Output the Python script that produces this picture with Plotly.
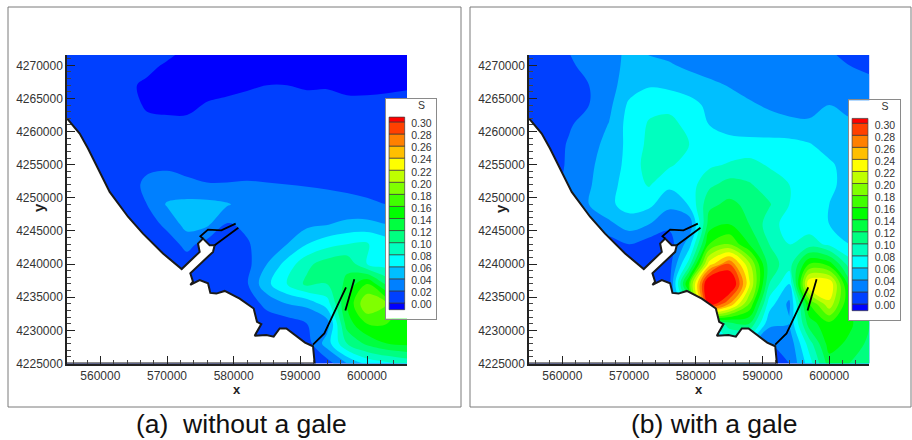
import plotly.graph_objects as go

W, H = 912, 440

x_grid = [555000 + 3000 * i for i in range(18)]
y_grid = [4225000, 4228000, 4231000, 4234000, 4237000, 4240000, 4243000, 4246000, 4249000,
          4252000, 4255000, 4258000, 4261000, 4264000, 4267000, 4270000, 4272000]

z_a = [
 [.02,.02,.02,.02,.02,.02,.02,.02,.02,.02,.02,.02,.008,.02,.05,.075,.085,.095],
 [.02,.02,.02,.02,.02,.02,.02,.02,.02,.02,.02,.02,.02,.06,.11,.135,.15,.155],
 [.02,.02,.02,.02,.02,.02,.02,.02,.02,.02,.02,.02,.03,.04,.14,.17,.17,.155],
 [.02,.02,.02,.02,.02,.02,.02,.02,.02,.02,.035,.05,.055,.08,.15,.21,.19,.15],
 [.02,.02,.02,.02,.02,.02,.02,.02,.02,.028,.065,.09,.115,.11,.135,.17,.125,.09],
 [.02,.02,.02,.02,.02,.02,.02,.02,.02,.024,.05,.078,.105,.12,.125,.09,.08,.07],
 [.02,.02,.02,.02,.02,.02,.036,.022,.02,.028,.04,.05,.07,.083,.09,.092,.08,.06],
 [.02,.02,.02,.02,.02,.035,.058,.054,.028,.034,.04,.04,.045,.049,.055,.056,.05,.047],
 [.02,.02,.02,.018,.03,.052,.056,.056,.052,.042,.04,.04,.038,.036,.034,.032,.03,.03],
 [.02,.02,.02,.024,.033,.037,.034,.031,.031,.032,.031,.030,.029,.028,.027,.026,.025,.022],
 [.02,.02,.02,.022,.027,.027,.024,.022,.022,.022,.022,.021,.021,.02,.02,.02,.02,.02],
 [.02,.02,.02,.018,.018,.018,.018,.018,.018,.018,.018,.018,.018,.018,.018,.018,.018,.018],
 [.02,.02,.02,.018,.014,.013,.013,.014,.016,.016,.016,.016,.016,.016,.016,.016,.016,.016],
 [.02,.02,.02,.016,.008,.007,.007,.011,.013,.015,.016,.016,.016,.014,.013,.013,.013,.013],
 [.02,.02,.02,.014,.006,.005,.004,.005,.006,.008,.01,.01,.008,.009,.007,.007,.008,.009],
 [.02,.02,.02,.02,.016,.007,.004,.004,.004,.004,.004,.004,.004,.004,.004,.004,.004,.004],
 [.02,.02,.02,.02,.02,.016,.006,.004,.004,.004,.004,.004,.004,.004,.004,.004,.004,.004],
]

z_b = [
 [.02,.02,.02,.02,.02,.02,.02,.02,.02,.02,.04,.06,.03,.03,.08,.14,.13,.12],
 [.02,.02,.02,.02,.02,.02,.02,.02,.02,.04,.08,.06,.03,.035,.10,.16,.145,.125],
 [.02,.02,.02,.02,.02,.02,.02,.02,.02,.08,.12,.13,.055,.05,.14,.165,.155,.13],
 [.02,.02,.02,.02,.02,.02,.02,.02,.10,.33,.27,.19,.08,.045,.17,.225,.15,.12],
 [.02,.02,.02,.02,.02,.02,.02,.02,.18,.35,.35,.235,.11,.07,.25,.25,.14,.09],
 [.02,.02,.02,.02,.02,.02,.02,.02,.10,.24,.29,.215,.12,.10,.17,.16,.10,.08],
 [.02,.02,.02,.02,.02,.03,.02,.02,.06,.17,.19,.15,.11,.09,.10,.085,.07,.065],
 [.02,.02,.02,.04,.045,.06,.05,.035,.035,.14,.15,.13,.10,.08,.08,.07,.06,.065],
 [.02,.02,.03,.05,.066,.078,.075,.055,.072,.125,.135,.125,.112,.09,.08,.07,.062,.058],
 [.02,.02,.035,.048,.062,.08,.092,.075,.08,.105,.118,.112,.10,.09,.082,.076,.06,.058],
 [.02,.02,.033,.046,.06,.076,.10,.093,.082,.086,.092,.096,.088,.085,.082,.074,.06,.058],
 [.02,.02,.032,.043,.056,.076,.095,.102,.09,.078,.078,.078,.078,.078,.072,.06,.058,.056],
 [.01,.016,.028,.038,.051,.078,.092,.098,.083,.07,.062,.058,.056,.053,.052,.052,.052,.052],
 [.012,.018,.022,.03,.045,.074,.085,.083,.078,.065,.058,.052,.048,.046,.046,.05,.047,.042],
 [.016,.018,.022,.03,.043,.06,.068,.066,.06,.054,.049,.045,.042,.04,.04,.04,.038,.035],
 [.018,.02,.027,.036,.046,.053,.056,.052,.046,.042,.04,.038,.037,.036,.034,.033,.03,.026],
 [.018,.02,.03,.037,.045,.053,.048,.045,.043,.04,.04,.038,.036,.035,.033,.031,.026,.022],
]

band_colors = ["#0000ff","#0040ff","#0080ff","#00bfff","#00ffff","#00ffbf","#00ff80","#00ff40",
               "#00ff00","#40ff00","#80ff00","#bfff00","#ffff00","#ffbf00","#ff8000","#ff4000","#ff0000"]
legend_labels = ["0.00","0.02","0.04","0.06","0.08","0.10","0.12","0.14","0.16","0.18","0.20",
                 "0.22","0.24","0.26","0.28","0.30"]
legend_values = [0.00,0.02,0.04,0.06,0.08,0.10,0.12,0.14,0.16,0.18,0.20,0.22,0.24,0.26,0.28,0.30]
legend_edges = [-0.0066,0.0045,0.0245,0.0445,0.0645,0.0845,0.1045,0.1245,0.1445,0.1645,0.1845,
                0.2045,0.2245,0.2445,0.2645,0.2845,0.3045,0.3125]

land_x = [555000,556900,558150,559900,561400,564150,566400,569400,572200,574900,574650,575400,
          576400,577150,576900,573500,573900,573500,574900,576150,576500,577400,578650,580900,
          583000,583500,584150,583150,584900,586000,586900,587900,590700,591900,592150,555000]
land_y = [4262000,4259700,4257450,4253900,4250900,4247150,4244600,4241600,4239250,4241850,4243100,4243850,
          4242850,4242850,4241850,4238600,4237350,4236850,4237600,4237100,4235650,4235550,4235950,4234800,
          4233300,4231300,4230950,4229200,4229300,4229050,4230300,4230300,4228150,4227600,4225000,4225000]
mole_x = [575400,575000,576150,578150,580300]
mole_y = [4243850,4244200,4245200,4245100,4246100]
wall1_x = [577150,580700]
wall1_y = [4242850,4245500]
wall2_x = [596850,593600,591900]
wall2_y = [4236500,4229550,4227850]
wall3_x = [598100,596750]
wall3_y = [4237700,4233000]

x_ticks_step = 10000
y_ticks_step = 5000
x_range = [555000, 606000]
y_range = [4225000, 4271560]

GREY = "#333333"
FONT = "Liberation Sans, Arial, sans-serif"

def px(x): return x / W
def py(y): return 1 - y / H

fig = go.Figure()

colorscale = []
n = len(band_colors)
for i, c in enumerate(band_colors):
    colorscale.append([i / n, c])
    colorscale.append([(i + 1) / n, c])

panels = [
    dict(z=z_a, xa="x", ya="y", left=67, right=407),
    dict(z=z_b, xa="x2", ya="y2", left=529, right=869.3),
]
for p in panels:
    fig.add_trace(go.Contour(x=x_grid, y=y_grid, z=p["z"], xaxis=p["xa"], yaxis=p["ya"],
        autocontour=False, contours=dict(start=0.01, end=0.31, size=0.02, coloring="fill", showlines=False),
        line=dict(width=0, smoothing=1.0), colorscale=colorscale, zmin=-0.01, zmax=0.33,
        showscale=False, hoverinfo="skip"))
    fig.add_trace(go.Scatter(x=land_x, y=land_y, xaxis=p["xa"], yaxis=p["ya"], mode="lines",
        fill="toself", fillcolor="white", line=dict(color="#1a1a1a", width=2), hoverinfo="skip", showlegend=False))
    for lx, ly in [(mole_x, mole_y), (wall1_x, wall1_y), (wall2_x, wall2_y), (wall3_x, wall3_y)]:
        fig.add_trace(go.Scatter(x=lx, y=ly, xaxis=p["xa"], yaxis=p["ya"], mode="lines",
            line=dict(color="black", width=1.8), hoverinfo="skip", showlegend=False))

bar_base = legend_edges[:-1]
bar_h = [legend_edges[i + 1] - legend_edges[i] for i in range(len(legend_edges) - 1)]
boxes = [
    dict(xa="x3", ya="y3", l=385.7, r=436, t=99, b=318.7, zero=305.7, step=12.07),
    dict(xa="x4", ya="y4", l=848.7, r=899.7, t=100.3, b=320.3, zero=306.7, step=12.05),
]
for b in boxes:
    fig.add_trace(go.Bar(x=[0.222] * len(bar_base), y=bar_h, base=bar_base, width=0.31,
        xaxis=b["xa"], yaxis=b["ya"], marker=dict(color=band_colors, line=dict(color="#3a3a3a", width=0.7)),
        hoverinfo="skip", showlegend=False))
    fig.add_trace(go.Scatter(x=[0.71] * len(legend_values), y=legend_values, text=legend_labels, mode="text",
        textfont=dict(family=FONT, size=10.5, color=GREY), xaxis=b["xa"], yaxis=b["ya"],
        hoverinfo="skip", showlegend=False))
    fig.add_trace(go.Scatter(x=[0.71], y=[0.3308], text=["S"], mode="text",
        textfont=dict(family=FONT, size=10.5, color=GREY), xaxis=b["xa"], yaxis=b["ya"],
        hoverinfo="skip", showlegend=False))

layout = dict(
    width=W, height=H, autosize=False, margin=dict(l=0, r=0, t=0, b=0, pad=0, autoexpand=False),
    paper_bgcolor="white", plot_bgcolor="#ffffff", barmode="overlay", showlegend=False,
    font=dict(family=FONT, color=GREY),
)

top, bottom = 55, 363.5
for i, p in enumerate(panels):
    sx = "" if i == 0 else "2"
    layout["xaxis" + sx] = dict(domain=[px(p["left"]), px(p["right"])], range=x_range, anchor="y" + sx,
        dtick=x_ticks_step, tick0=560000, tickformat="d", ticks="inside", ticklen=8, tickwidth=1, tickcolor="#222",
        minor=dict(dtick=2000, tick0=560000, ticks="inside", ticklen=4, tickcolor="#444", tickwidth=1),
        showline=True, linecolor="#222", linewidth=1.5, showgrid=False, zeroline=False,
        tickfont=dict(family=FONT, size=12, color=GREY), fixedrange=True)
    layout["yaxis" + sx] = dict(domain=[py(bottom), py(top)], range=y_range, anchor="x" + sx,
        dtick=y_ticks_step, tick0=4225000, tickformat="d", ticks="inside", ticklen=8, tickwidth=1, tickcolor="#222",
        minor=dict(dtick=1000, tick0=4225000, ticks="inside", ticklen=4, tickcolor="#444", tickwidth=1),
        showline=True, linecolor="#222", linewidth=1.5, showgrid=False, zeroline=False,
        tickfont=dict(family=FONT, size=12, color=GREY), fixedrange=True)

for i, b in enumerate(boxes):
    sx = str(i + 3)
    ylo = (b["zero"] - b["b"]) / b["step"] * 0.02
    yhi = (b["zero"] - b["t"]) / b["step"] * 0.02
    layout["xaxis" + sx] = dict(domain=[px(b["l"]), px(b["r"])], range=[0, 1], anchor="y" + sx, visible=True,
        showticklabels=False, ticks="", showgrid=False, zeroline=False, showline=True, mirror=True,
        linecolor="#8a8a8a", linewidth=1, fixedrange=True)
    layout["yaxis" + sx] = dict(domain=[py(b["b"]), py(b["t"])], range=[ylo, yhi], anchor="x" + sx, visible=True,
        showticklabels=False, ticks="", showgrid=False, zeroline=False, showline=True, mirror=True,
        linecolor="#8a8a8a", linewidth=1, fixedrange=True)

fig.update_layout(**layout)

for x0, x1 in [(8, 461), (470, 911)]:
    fig.add_shape(type="rect", xref="paper", yref="paper", x0=px(x0), x1=px(x1), y0=py(407), y1=py(7),
                  line=dict(color="#7a7a7a", width=1), fillcolor="rgba(0,0,0,0)", layer="below")

def label(x, y, text, size, angle=0, color="#222"):
    fig.add_annotation(x=px(x), y=py(y), xref="paper", yref="paper", text=text, showarrow=False,
                       textangle=angle, font=dict(family=FONT, size=size, color=color),
                       xanchor="center", yanchor="middle", borderpad=0)

label(237, 389, "<b>x</b>", 13)
label(699, 389, "<b>x</b>", 13)
label(39, 208, "<b>y</b>", 15, angle=-90)
label(501, 208, "<b>y</b>", 15, angle=-90)
label(241.5, 424, "(a)  without a gale", 26.5, color="#111")
label(714, 424, "(b) with a gale", 26.5, color="#111")

fig.write_html("out.html", config={"displayModeBar": False},
               post_script="document.body.style.margin='0';document.body.style.overflow='hidden';")
